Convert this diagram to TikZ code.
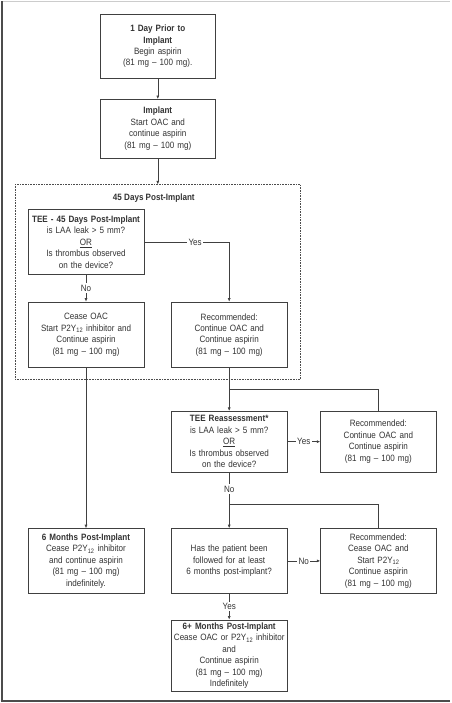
\documentclass[tikz,border=0pt]{standalone}
\usepackage{fontspec}
\setmainfont{Liberation Sans}[FakeStretch=0.88]
\usetikzlibrary{arrows.meta,positioning}

\begin{document}
\begin{tikzpicture}[
    x=1pt,y=-1pt,
    node distance=20pt and 27pt,
    every node/.style={font=\fontsize{9.2}{11.5}\selectfont,align=center,text=black!80},
    caixa/.style={draw=black!75,line width=0.6pt,minimum width=116pt,
      text width=112pt,inner sep=2pt},
    moldura/.style={draw=black!70,densely dotted,line width=0.6pt,
      minimum width=286pt,minimum height=195pt},
    fluxo/.style={-{Latex[length=3.5pt,width=3pt]},black!75,line width=0.6pt},
    linha/.style={black!75,line width=0.6pt},
    rotulo/.style={fill=white,inner sep=1.5pt}
  ]
    % page and edges of the screenshot
    \fill[white] (0,0) rectangle (451,703);
    \draw[black!20,line width=1pt] (0,0.5) -- (451,0.5);
    \draw[black!70,line width=2pt] (1,0) -- (1,703);
    \draw[black!70,line width=1.5pt] (0,702.2) -- (451,702.2);

    \node[caixa,minimum height=65pt] (antes) at (157.5,45.5)
      {\textbf{1 Day Prior to}\\\textbf{Implant}\\Begin aspirin\\(81 mg -- 100 mg).};
    \node[caixa,minimum height=59pt,below=20pt of antes] (implante)
      {\textbf{Implant}\\Start OAC and\\continue aspirin\\(81 mg -- 100 mg)};
    \node[moldura,below=26pt of implante] (dias45) {};
    \node[inner sep=0pt,below=9pt of dias45.north,xshift=-4pt] (titulo45)
      {\textbf{45 Days Post-Implant}};
    \node[caixa,minimum height=65pt,anchor=north west] (tee1)
      at ([shift={(13,25)}]dias45.north west)
      {\textbf{TEE - 45 Days Post-Implant}\\is LAA leak > 5 mm?\\\underline{OR}\\Is thrombus observed\\on the device?};
    \node[caixa,minimum height=66pt,below=27pt of tee1] (cessar)
      {Cease OAC\\Start P2Y\textsubscript{12} inhibitor and\\Continue aspirin\\(81 mg -- 100 mg)};
    \node[caixa,minimum height=66pt,right=27pt of cessar] (recom1)
      {Recommended:\\Continue OAC and\\Continue aspirin\\(81 mg -- 100 mg)};
    \node[caixa,minimum height=61pt,below=43pt of recom1] (tee2)
      {\textbf{TEE Reassessment*}\\is LAA leak > 5 mm?\\\underline{OR}\\Is thrombus observed\\on the device?};
    \node[caixa,minimum height=61pt,right=33pt of tee2] (recom2)
      {Recommended:\\Continue OAC and\\Continue aspirin\\(81 mg -- 100 mg)};
    \node[caixa,minimum height=65pt,below=56pt of tee2] (seguido)
      {Has the patient been\\followed for at least\\6 months post-implant?};
    \node[caixa,minimum height=65pt,right=33pt of seguido] (recom3)
      {Recommended:\\Cease OAC and\\Start P2Y\textsubscript{12}\\Continue aspirin\\(81 mg -- 100 mg)};
    \node[caixa,minimum height=65pt,left=27pt of seguido] (meses6)
      {\textbf{6 Months Post-Implant}\\Cease P2Y\textsubscript{12} inhibitor\\and continue aspirin\\(81 mg -- 100 mg)\\indefinitely.};
    \node[caixa,minimum height=72pt,below=26pt of seguido] (final)
      {\textbf{6+ Months Post-Implant}\\Cease OAC or P2Y\textsubscript{12} inhibitor\\and\\Continue aspirin\\(81 mg -- 100 mg)\\Indefinitely};

    \coordinate[below=21pt of recom1.south] (ramo1);
    \coordinate[below=32pt of tee2.south] (ramo2);

    \draw[fluxo] (antes) -- (implante);
    \draw[fluxo] (implante) -- (dias45.north);
    \draw[fluxo] (tee1) -- node[rotulo]{No} (cessar);
    \draw[fluxo] (tee1.east) -| node[rotulo,pos=0.3]{Yes} (recom1.north);
    \draw[fluxo] (recom1) -- (tee2);
    \draw[linha] (ramo1) -| (recom2.north);
    \draw[fluxo] (tee2) -- node[rotulo]{Yes} (recom2);
    \draw[fluxo] (tee2) -- node[rotulo,pos=0.3]{No} (seguido);
    \draw[linha] (ramo2) -| (recom3.north);
    \draw[fluxo] (cessar) -- (meses6);
    \draw[fluxo] (seguido) -- node[rotulo]{No} (recom3);
    \draw[fluxo] (seguido) -- node[rotulo]{Yes} (final);
  \end{tikzpicture}
\end{document}
